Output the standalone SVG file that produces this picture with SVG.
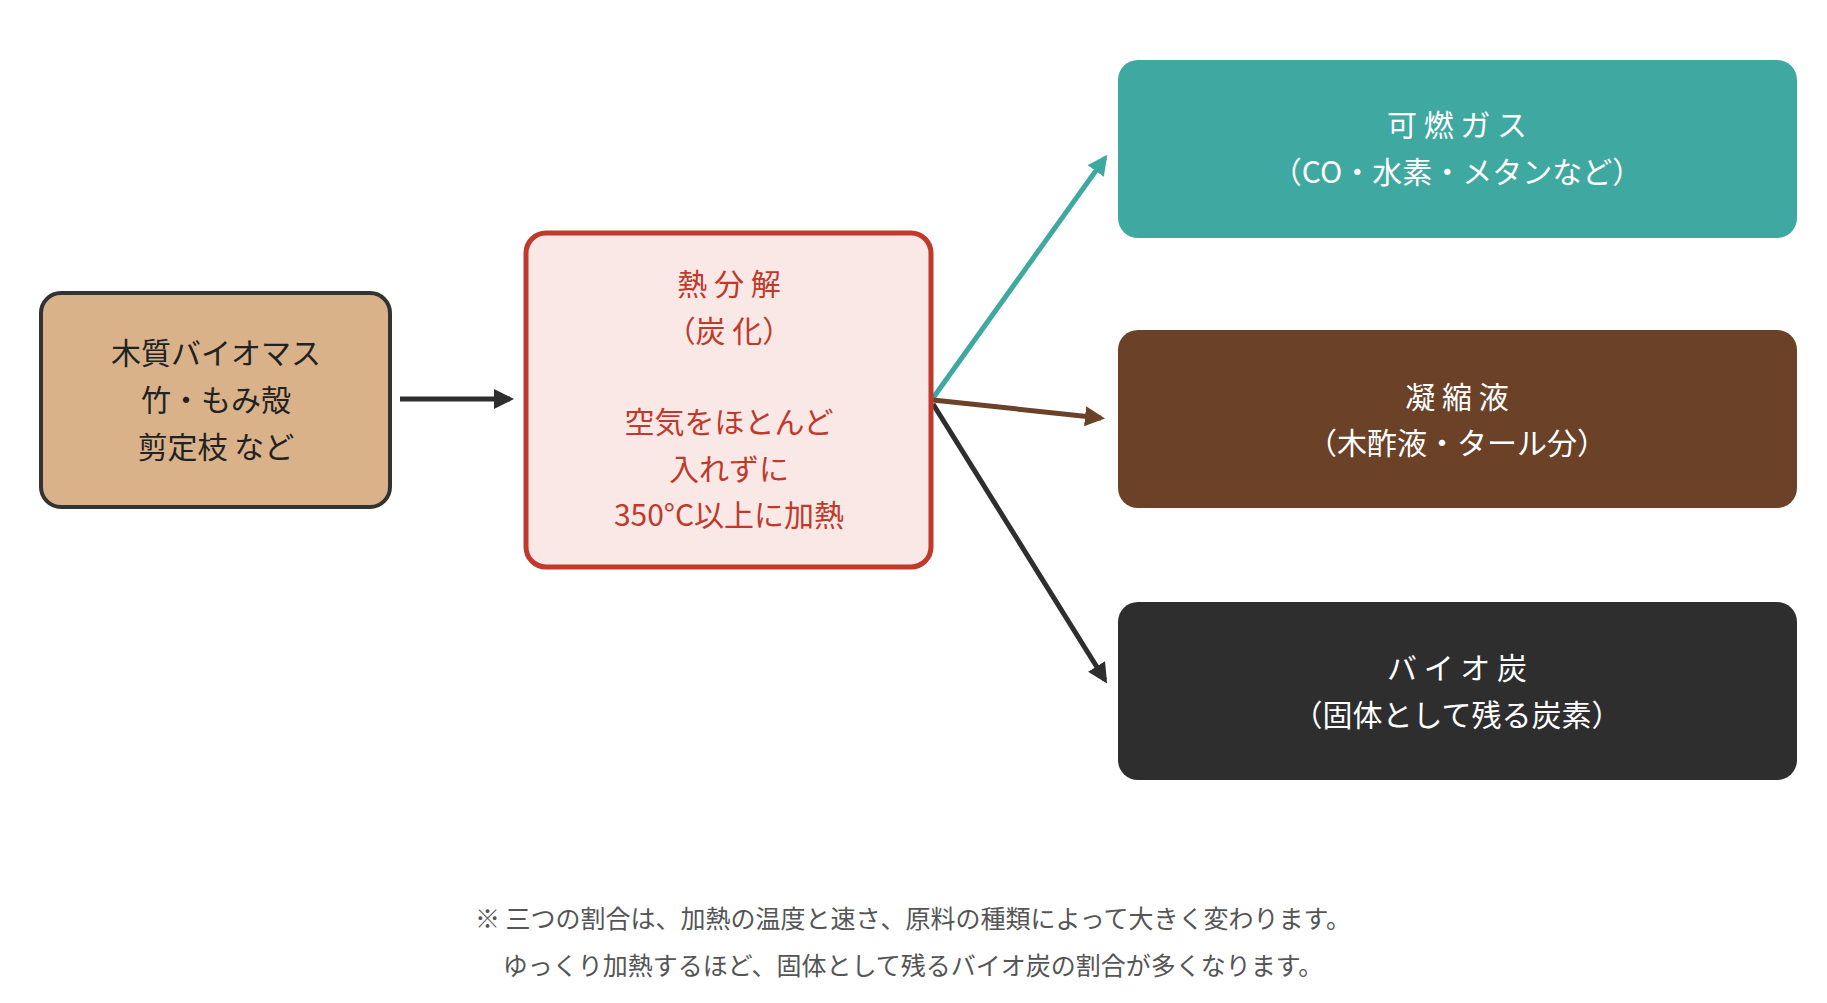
<svg xmlns="http://www.w3.org/2000/svg" width="1827" height="1003" viewBox="0 0 1827 1003">
<style>
text{font-family:"Noto Sans CJK JP","Noto Sans",sans-serif;font-size:30px;text-anchor:middle;dominant-baseline:central}
.w{fill:#fff}
.r{fill:#c0392b}
.k{fill:#222}
.n{fill:#555;font-size:25px}
</style>
<defs>
<marker id="ak" viewBox="0 0 10 10" refX="8" refY="5" markerWidth="4" markerHeight="4" orient="auto" markerUnits="strokeWidth"><path d="M0,0L10,5L0,10z" fill="#2e2e2e"/></marker>
<marker id="at" viewBox="0 0 10 10" refX="8" refY="5" markerWidth="4" markerHeight="4" orient="auto" markerUnits="strokeWidth"><path d="M0,0L10,5L0,10z" fill="#3fa8a0"/></marker>
<marker id="ab" viewBox="0 0 10 10" refX="8" refY="5" markerWidth="4" markerHeight="4" orient="auto" markerUnits="strokeWidth"><path d="M0,0L10,5L0,10z" fill="#6b4128"/></marker>
</defs>
<rect width="1827" height="1003" fill="#fff"/>
<g id="connectors" stroke-width="5" fill="none">
<line x1="400" y1="399" x2="510" y2="399" stroke="#2e2e2e" marker-end="url(#ak)"/>
<line x1="933" y1="398" x2="1105" y2="158" stroke="#3fa8a0" marker-end="url(#at)"/>
<line x1="933" y1="400" x2="1101" y2="418" stroke="#6b4128" marker-end="url(#ab)"/>
<line x1="933" y1="404" x2="1105" y2="680" stroke="#2e2e2e" marker-end="url(#ak)"/>
</g>
<g id="biomass"><rect x="41" y="293" width="349" height="214" rx="20" fill="#d9b28a" stroke="#333" stroke-width="4"/>
<text x="216" y="351" class="k">木質バイオマス</text><text x="216" y="398" class="k">竹・もみ殻</text><text x="216" y="445" class="k">剪定枝 など</text></g>
<g id="pyrolysis"><rect x="526" y="233" width="405" height="334" rx="20" fill="#fae8e6" stroke="#c0392b" stroke-width="5"/>
<text x="729" y="282" class="r">熱 分 解</text><text x="729" y="329" class="r">（炭 化）</text>
<text x="729" y="420" class="r">空気をほとんど</text><text x="729" y="467" class="r">入れずに</text><text x="729" y="513" class="r">350°C以上に加熱</text></g>
<g id="gas"><rect x="1118" y="60" width="679" height="178" rx="20" fill="#3fa8a0"/>
<text x="1457" y="123" class="w">可 燃 ガ ス</text><text x="1457" y="170" class="w">（CO・水素・メタンなど）</text></g>
<g id="liquid"><rect x="1118" y="330" width="679" height="178" rx="20" fill="#6b4128"/>
<text x="1457" y="395" class="w">凝 縮 液</text><text x="1457" y="441" class="w">（木酢液・タール分）</text></g>
<g id="biochar"><rect x="1118" y="602" width="679" height="178" rx="20" fill="#2e2e2e"/>
<text x="1457" y="666" class="w">バ イ オ 炭</text><text x="1457" y="713" class="w">（固体として残る炭素）</text></g>
<g id="note"><text x="913" y="917" class="n">※ 三つの割合は、加熱の温度と速さ、原料の種類によって大きく変わります。</text>
<text x="913" y="964" class="n">ゆっくり加熱するほど、固体として残るバイオ炭の割合が多くなります。</text></g>
</svg>
